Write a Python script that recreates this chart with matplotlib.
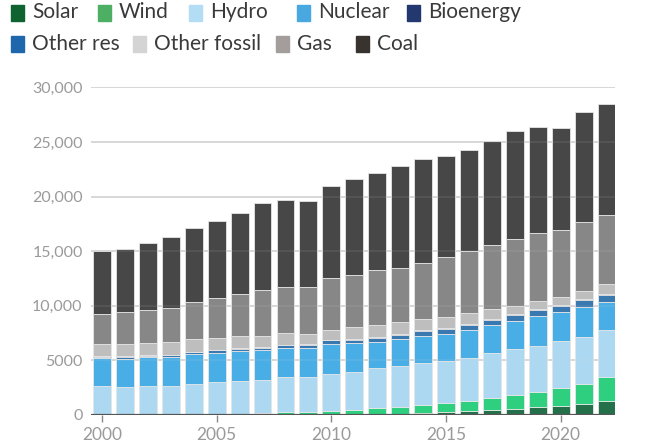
import matplotlib
matplotlib.use('Agg')
import matplotlib.pyplot as plt
from matplotlib.patches import Rectangle
import numpy as np

years = list(range(2000, 2023))

solar = [1, 2, 2, 3, 3, 4, 6, 8, 12, 20, 32, 63, 98, 134, 190, 250, 330, 450, 580, 720, 850, 1040, 1280]
wind = [30, 40, 50, 65, 85, 105, 130, 170, 220, 270, 340, 430, 530, 640, 700, 820, 930, 1140, 1250, 1390, 1590, 1830, 2200]
hydro = [2620, 2550, 2600, 2590, 2780, 2880, 2980, 3040, 3220, 3220, 3410, 3480, 3640, 3740, 3870, 3900, 3990, 4060,
         4180, 4210, 4340, 4240, 4270]
nuclear = [2560, 2570, 2620, 2620, 2700, 2720, 2750, 2700, 2660, 2620, 2700, 2600, 2420, 2440, 2500, 2490, 2530, 2550,
           2600, 2720, 2620, 2740, 2600]
other_res = [143, 174, 174, 174, 199, 199, 199, 225, 255, 311, 342, 337, 367, 393, 423, 449, 479, 505, 535, 561, 617,
             648, 673]
bioenergy = [40, 40, 40, 40, 45, 45, 45, 50, 50, 55, 55, 60, 60, 65, 65, 70, 70, 75, 75, 80, 85, 85, 90]
other_fossil = [1130, 1150, 1100, 1150, 1150, 1130, 1100, 1070, 1070, 950, 920, 1070, 1100, 1100, 1010, 1020, 1010,
                920, 760, 730, 700, 760, 890]
gas = [2720, 2870, 3050, 3170, 3420, 3630, 3850, 4170, 4210, 4240, 4780, 4790, 5100, 4970, 5190, 5490, 5680, 5830,
       6130, 6220, 6160, 6350, 6320]
coal = [5740, 5800, 6070, 6470, 6710, 7050, 7420, 7960, 7960, 7870, 8370, 8820, 8850, 9310, 9460, 9190, 9280, 9550,
        9890, 9700, 9280, 10070, 10190]

# stacking order bottom -> top, bar colour, legend colour
series = [
    ('Solar', solar, '#24704a', '#0f6331'),
    ('Wind', wind, '#2ecf7e', '#4caf63'),
    ('Hydro', hydro, '#acd8f2', '#b3dcf5'),
    ('Nuclear', nuclear, '#4aaee6', '#4aa8e0'),
    ('Other res', other_res, '#3a78b0', '#1f67ad'),
    ('Bioenergy', bioenergy, '#2a4478', '#22386e'),
    ('Other fossil', other_fossil, '#bebebe', '#d4d4d4'),
    ('Gas', gas, '#878787', '#a39e9b'),
    ('Coal', coal, '#474747', '#39332f'),
]

fig = plt.figure(figsize=(6.46, 4.45), dpi=100)
ax = fig.add_axes([91 / 646, 30 / 445, 524 / 646, 327.7 / 445])

yticks = [0, 5000, 10000, 15000, 20000, 25000, 30000]
for yv in yticks[1:]:
    ax.axhline(yv, color='#d3d3d3', lw=1.2, zorder=0)

bottom = np.zeros(len(years))
for name, vals, bc, lc in series:
    ax.bar(years, vals, bottom=bottom, width=0.78, color=bc, edgecolor='#e6e6e6', linewidth=0.6, zorder=2)
    bottom += np.array(vals)

# grid faintly visible through the bars
for yv in yticks[1:]:
    ax.axhline(yv, color='#d0d0d0', lw=1.2, alpha=0.12, zorder=3)
ax.axhline(0, color='#555555', lw=1.6, zorder=4)

ax.set_ylim(0, 30000)
ax.set_xlim(1999.52, 2022.37)
ax.set_yticks(yticks)
ax.set_yticklabels(['0', '5000', '10,000', '15,000', '20,000', '25,000', '30,000'])
ax.set_xticks([2000, 2005, 2010, 2015, 2020])
for s in ax.spines.values():
    s.set_visible(False)
ax.tick_params(axis='y', length=0, pad=6, labelsize=11.5, labelcolor='#9a9a9a')
ax.tick_params(axis='x', length=5, width=1, color='#888888', pad=4, labelsize=12.5, labelcolor='#9a9a9a')
for lab in ax.get_xticklabels() + ax.get_yticklabels():
    lab.set_family('Lato')

# legend, laid out in two flowing rows like the source
legend_pos = {
    'Solar': (11, 12.5), 'Wind': (98, 12.5), 'Hydro': (189, 12.5), 'Nuclear': (297, 12.5),
    'Bioenergy': (407, 12.5), 'Other res': (11, 44), 'Other fossil': (133, 44), 'Gas': (276, 44),
    'Coal': (356, 44),
}
for name, vals, bc, lc in series:
    px, py = legend_pos[name]
    fig.patches.append(Rectangle((px / 646, 1 - (py + 8) / 445), 13 / 646, 16 / 445,
                                 transform=fig.transFigure, color=lc, figure=fig))
    fig.text((px + 21) / 646, 1 - py / 445, name, family='Lato', fontsize=15, color='#3a3a3a',
             va='center', ha='left')

fig.savefig('out.png', dpi=100)
